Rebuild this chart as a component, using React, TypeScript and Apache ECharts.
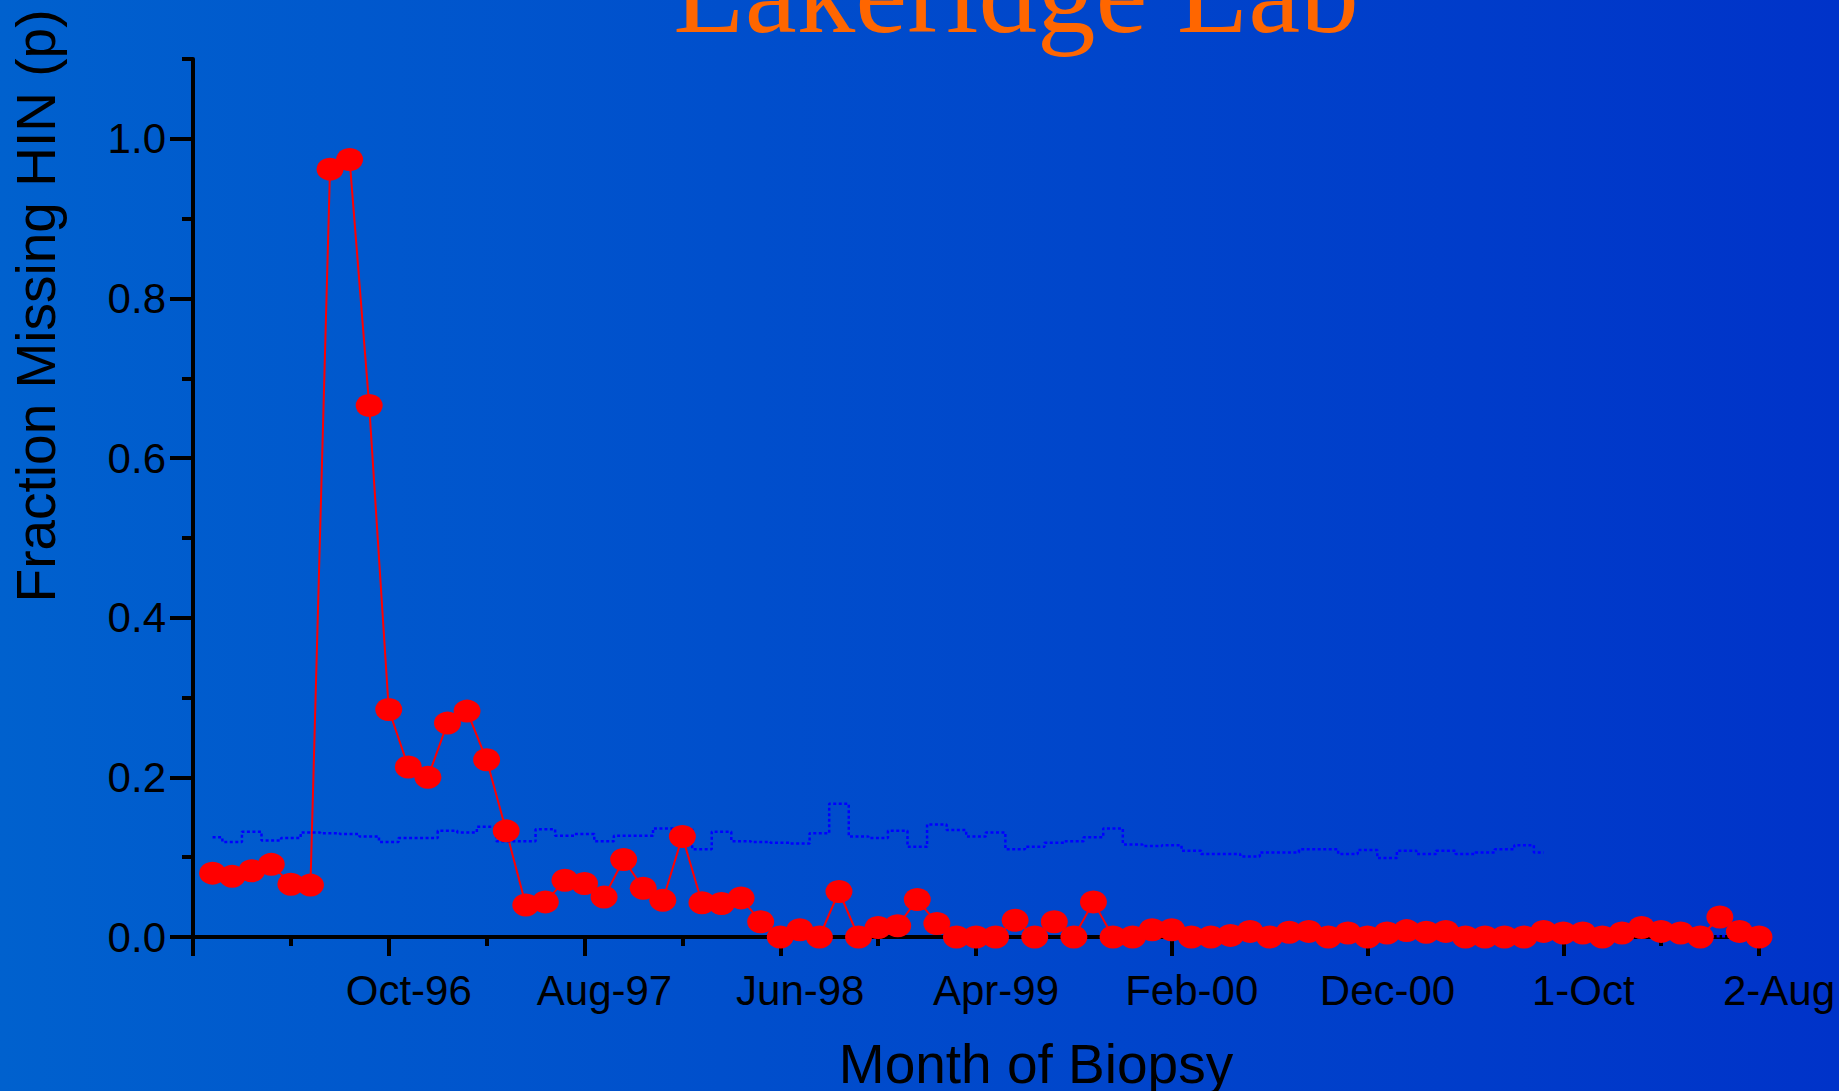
import React, { useEffect, useRef } from "react";
import * as echarts from "echarts";

// Month index 1 = Jan-96 ... 80 = Aug-02 (axis starts at 0 = Dec-95)
const xTickLabels = ["Oct-96", "Aug-97", "Jun-98", "Apr-99", "Feb-00", "Dec-00", "1-Oct", "2-Aug"];
const yTickValues = [0, 0.2, 0.4, 0.6, 0.8, 1.0];

// Fraction missing HIN (p), months 1..80
const pFraction = [
  0.080, 0.076, 0.083, 0.091, 0.066, 0.065, 0.962, 0.974, 0.666, 0.285,
  0.213, 0.200, 0.268, 0.283, 0.222, 0.133, 0.040, 0.044, 0.071, 0.067,
  0.050, 0.097, 0.061, 0.046, 0.126, 0.043, 0.042, 0.049, 0.019, 0.000,
  0.009, 0.000, 0.057, 0.000, 0.012, 0.014, 0.047, 0.017, 0.000, 0.000,
  0.000, 0.021, 0.000, 0.019, 0.000, 0.044, 0.000, 0.000, 0.009, 0.009,
  0.000, 0.000, 0.002, 0.007, 0.000, 0.006, 0.007, 0.000, 0.005, 0.000,
  0.005, 0.008, 0.006, 0.007, 0.000, 0.000, 0.000, 0.000, 0.007, 0.005,
  0.005, 0.000, 0.005, 0.012, 0.007, 0.005, 0.000, 0.025, 0.007, 0.000,
];

// Upper limit (dotted), months 1..69
const upperStart = 1;
const upperLimit = [
  0.125, 0.119, 0.132, 0.121, 0.124, 0.131, 0.130, 0.129, 0.126, 0.119,
  0.124, 0.124, 0.133, 0.131, 0.138, 0.120, 0.120, 0.135, 0.127, 0.129,
  0.120, 0.127, 0.127, 0.136, 0.136, 0.110, 0.132, 0.120, 0.119, 0.118,
  0.117, 0.130, 0.167, 0.126, 0.124, 0.133, 0.113, 0.141, 0.134, 0.126,
  0.131, 0.110, 0.113, 0.118, 0.120, 0.125, 0.136, 0.116, 0.114, 0.115,
  0.108, 0.104, 0.104, 0.101, 0.106, 0.106, 0.110, 0.110, 0.104, 0.109,
  0.099, 0.108, 0.104, 0.108, 0.104, 0.106, 0.110, 0.115, 0.106,
];

// Lower dotted line, months 47..80
const lowerStart = 47;
const lowerLimit = [
  0.001, 0.001, 0.001, 0.001, 0.001, 0.003, 0.002, 0.005, 0.001, 0.001,
  0.001, 0.001, 0.003, 0.001, 0.007, 0.001, 0.002, 0.002, 0.003, 0.001,
  0.001, 0.001, 0.001, 0.001, 0.004, 0.001, 0.003, 0.002, 0.001, 0.002,
  0.006, 0.001, 0.001, 0.001,
];

const SANS = "'Liberation Sans', Arial, sans-serif";
const SERIF = "'Liberation Serif', 'Times New Roman', serif";

export default function App() {
  const ref = useRef<HTMLDivElement>(null);

  useEffect(() => {
    if (!ref.current) return;
    const chart = echarts.init(ref.current, null, { renderer: "svg" });

    const pData = pFraction.map((v, i) => [i + 1, v]);
    const upData = upperLimit.map((v, i) => [i + upperStart, v]);
    const loData = lowerLimit.map((v, i) => [i + lowerStart, v]);

    const tickStyle = { color: "#000", width: 4 };

    chart.setOption({
      animation: false,
      backgroundColor: new echarts.graphic.LinearGradient(0, 0, 1, 0, [
        { offset: 0, color: "#0061CE" },
        { offset: 1, color: "#0033C9" },
      ]),
      grid: { left: 193, right: 80, top: 59, bottom: 154, containLabel: false, outerBoundsMode: "none" },
      xAxis: [
        {
          type: "value", min: 0, max: 80, interval: 5,
          axisLine: { show: true, onZero: false, lineStyle: { color: "#000", width: 4 } },
          axisTick: { show: true, length: 9, lineStyle: tickStyle },
          axisLabel: { show: false },
          splitLine: { show: false },
        },
        {
          type: "value", min: 0, max: 80, interval: 10, position: "bottom",
          axisLine: { show: false, onZero: false },
          axisTick: { show: true, length: 19, lineStyle: tickStyle },
          axisLabel: {
            show: true, color: "#000", fontFamily: SANS, fontSize: 42, margin: 32,
            padding: [0, 0, 0, 40], showMaxLabel: true, showMinLabel: true,
            formatter: (v: number) => (v > 0 ? xTickLabels[Math.round(v / 10) - 1] ?? "" : ""),
          },
          splitLine: { show: false },
        },
      ],
      yAxis: [
        {
          type: "value", min: 0, max: 1.1, interval: 0.1,
          axisLine: { show: true, onZero: false, lineStyle: { color: "#000", width: 4 } },
          axisTick: { show: true, length: 11, lineStyle: tickStyle },
          axisLabel: { show: false },
          splitLine: { show: false },
        },
        {
          type: "value", min: 0, max: 1.1, position: "left",
          axisLine: { show: false, onZero: false },
          axisTick: { show: true, length: 23, lineStyle: tickStyle, customValues: yTickValues },
          axisLabel: {
            show: true, color: "#000", fontFamily: SANS, fontSize: 42, margin: 27,
            padding: [10, 0, 0, 0], customValues: yTickValues,
            formatter: (v: number) => v.toFixed(1),
          },
          splitLine: { show: false },
        },
      ],
      graphic: [
        {
          type: "text", x: 1016, y: -8, z: 10,
          style: { text: "Lakeridge Lab", fill: "#FF6600", font: `117px ${SERIF}`, align: "center", verticalAlign: "middle" },
        },
        {
          type: "text", x: 36, y: 306, rotation: Math.PI / 2, z: 10,
          style: { text: "Fraction Missing HIN (p)", fill: "#000", font: `55px ${SANS}`, align: "center", verticalAlign: "middle" },
        },
        {
          type: "text", x: 1036, y: 1064, z: 10,
          style: { text: "Month of Biopsy", fill: "#000", font: `55px ${SANS}`, align: "center", verticalAlign: "middle" },
        },
      ],
      series: [
        {
          name: "p", type: "line", xAxisIndex: 0, yAxisIndex: 0, data: pData,
          symbol: "circle", symbolSize: [27, 23],
          itemStyle: { color: "#FF0000", borderWidth: 0 },
          lineStyle: { color: "#FF0000", width: 2 },
        },
        {
          name: "Upper", type: "line", xAxisIndex: 0, yAxisIndex: 0, data: upData,
          step: "middle", symbol: "none",
          lineStyle: { color: "#0000FF", width: 2.5, type: [3, 2.5] },
        },
        {
          name: "Lower", type: "line", xAxisIndex: 0, yAxisIndex: 0, data: loData,
          step: "middle", symbol: "none",
          lineStyle: { color: "#0000FF", width: 2.5, type: [3, 2.5] },
        },
      ],
    });

    return () => chart.dispose();
  }, []);

  return (
    <div
      ref={ref}
      style={{ position: "absolute", left: 0, top: 0, width: 1839, height: 1091 }}
    />
  );
}
